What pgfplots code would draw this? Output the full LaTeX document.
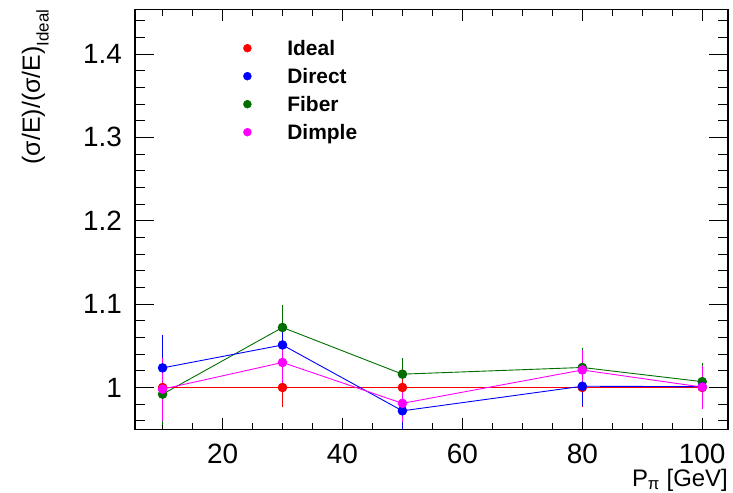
\documentclass[border=0pt]{standalone}
\usepackage{pgfplots}
\pgfplotsset{compat=1.18}
\usepackage{fontspec}
\setmainfont{Liberation Sans}
\definecolor{rgreen}{RGB}{0,110,0}
\definecolor{rmag}{RGB}{255,0,255}
\begin{document}
\begin{tikzpicture}
\begin{axis}[
  scale only axis,
  width=593bp, height=420bp,
  xmin=5.4, xmax=104.3,
  ymin=0.9496, ymax=1.4534,
  axis line style={line width=1.1bp},
  xtick={20,40,60,80,100},
  minor xtick={10,15,...,100},
  ytick={1,1.1,1.2,1.3,1.4},
  minor ytick={0.96,0.98,...,1.44},
  tick align=inside,
  xtick style={/pgfplots/major tick length=12bp, /pgfplots/minor tick length=7bp, black, line width=0.8bp},
  ytick style={/pgfplots/major tick length=19bp, /pgfplots/minor tick length=10bp, black, line width=0.8bp},
  /pgf/number format/assume math mode=true,
  ticklabel style={font=\fontsize{28}{28}\selectfont, inner sep=0pt},
  yticklabel style={anchor=east, xshift=-13bp},
  xticklabel style={anchor=north, yshift=-14bp},
  xlabel={P\textsubscript{π} [GeV]},
  ylabel={(σ/E)/(σ/E)\raisebox{-0.35em}{\fontsize{17}{17}\selectfont Ideal}},
  every axis x label/.style={at={(rel axis cs:1,0)}, anchor=base east, yshift=-56.5bp, inner sep=0pt, font=\fontsize{24}{24}\selectfont},
  every axis y label/.style={at={(rel axis cs:0,1)}, rotate=90, anchor=base east, yshift=95bp, inner sep=0pt, font=\fontsize{25}{25}\selectfont},
  legend image code/.code={\path[draw=none, fill=none] (-4bp,-4bp) rectangle (40bp,4bp); \fill (0bp,0bp) circle (4bp);},
  legend style={at={(rel axis cs:0,1)}, anchor=north west, xshift=105bp, yshift=-29bp,
    draw=none, fill=none, font=\fontsize{21}{21}\selectfont\bfseries,
    nodes={inner sep=0pt, text height=15bp, text depth=0bp, anchor=west},
    row sep=13bp, column sep=0pt},
  legend cell align=left,
]
\addlegendimage{red}
\addlegendentry{Ideal}
\addlegendimage{blue}
\addlegendentry{Direct}
\addlegendimage{rgreen}
\addlegendentry{Fiber}
\addlegendimage{rmag}
\addlegendentry{Dimple}

% Fiber
\addplot[forget plot, rgreen, line width=0.9bp, mark=*, mark size=4.3bp,
  error bars/.cd, y dir=both, y explicit, error mark=-, error mark options={mark size=1.5bp, line width=0.8bp, rgreen}, error bar style={line width=0.8bp}]
  coordinates {(10,0.992) +- (0,0.035) (30,1.072) +- (0,0.025) (50,1.016) +- (0,0.018) (80,1.024) +- (0,0.022) (100,1.007) +- (0,0.020)};
% Ideal
\addplot[forget plot, red, line width=0.9bp, mark=*, mark size=4.3bp,
  error bars/.cd, y dir=both, y explicit, error mark=-, error mark options={mark size=1.5bp, line width=0.8bp, red}, error bar style={line width=0.8bp}]
  coordinates {(10,1.0) +- (0,0.030) (30,1.0) +- (0,0.022) (50,1.0) +- (0,0.020) (80,1.0) +- (0,0.022) (100,1.0) +- (0,0.022)};
% Direct
\addplot[forget plot, blue, line width=0.9bp, mark=*, mark size=4.3bp,
  error bars/.cd, y dir=both, y explicit, error mark=-, error mark options={mark size=1.5bp, line width=0.8bp, blue}, error bar style={line width=0.8bp}]
  coordinates {(10,1.0235) +- (0,0.038) (30,1.051) +- (0,0.024) (50,0.972) +- (0,0.020) (80,1.0015) +- (0,0.022) (100,1.001) +- (0,0.020)};
% Dimple
\addplot[forget plot, rmag, line width=0.9bp, mark=*, mark size=4.3bp,
  error bars/.cd, y dir=both, y explicit, error mark=-, error mark options={mark size=1.5bp, line width=0.8bp, rmag}, error bar style={line width=0.8bp}]
  coordinates {(10,0.998) +- (0,0.036) (30,1.030) +- (0,0.023) (50,0.981) +- (0,0.020) (80,1.021) +- (0,0.022) (100,1.0005) +- (0,0.024)};
\end{axis}
\pgfresetboundingbox
\useasboundingbox ([shift={(-135bp,-62.7bp)}]current axis.south west) rectangle ([shift={(5bp,9.5bp)}]current axis.north east);
\end{tikzpicture}
\end{document}
